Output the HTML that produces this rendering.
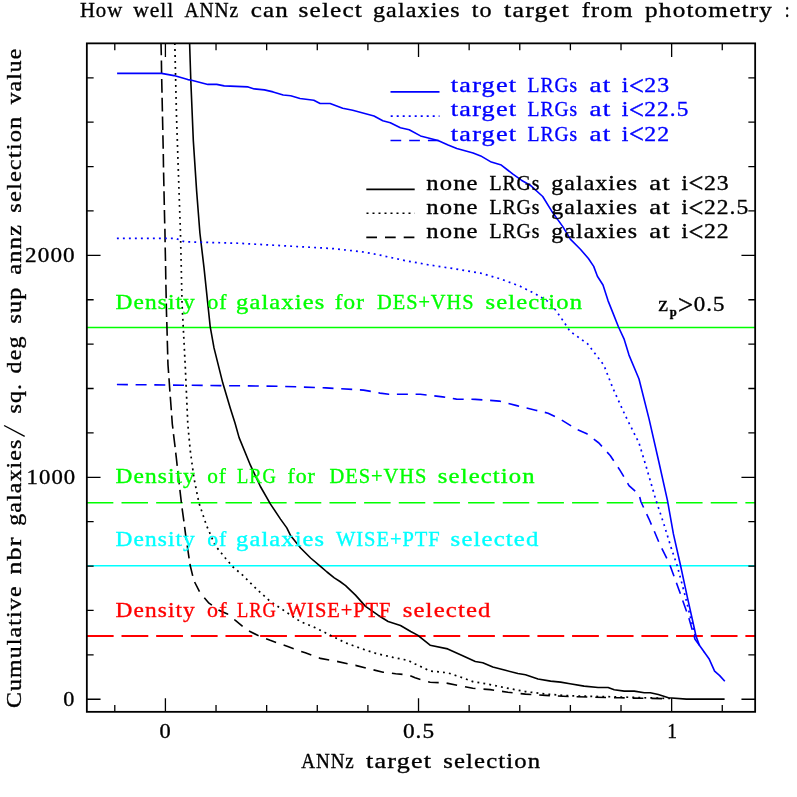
<!DOCTYPE html>
<html><head><meta charset="utf-8"><title>ANNz selection</title>
<style>
html,body{margin:0;padding:0;background:#fff;}
body{width:797px;height:797px;overflow:hidden;}
svg{display:block;will-change:transform;}
text{font-family:"Liberation Serif",serif;font-size:21.5px;stroke-width:0.35px;paint-order:stroke;}
</style></head><body>
<svg width="797" height="797" viewBox="0 0 797 797">
<rect width="797" height="797" fill="#fff"/>
<!-- horizontal reference lines -->
<line x1="86.84" x2="755.15" y1="327.6" y2="327.6" stroke="#0f0" stroke-width="1.5"/>
<line x1="86.84" x2="755.15" y1="502.8" y2="502.8" stroke="#0f0" stroke-width="1.5" stroke-dasharray="26.5 8.16"/>
<line x1="86.84" x2="755.15" y1="565.7" y2="565.7" stroke="#0ff" stroke-width="1.5"/>
<line x1="86.84" x2="755.15" y1="635.9" y2="635.9" stroke="#f00" stroke-width="2" stroke-dasharray="26.8 7.86"/>
<!-- curves -->
<g fill="none" stroke-linejoin="round">
<polyline points="189.6,43.0 190.8,80.2 193.3,140.4 196.6,190.6 199.9,233.0 204.0,267.6 210.2,326.6 214.0,347.9 222.8,383.1 230.3,408.2 235.0,423.0 239.1,437.6 250.4,465.2 260.4,486.5 270.5,504.1 280.5,519.1 286.8,527.9 290.5,535.4 300.6,548.0 310.6,558.0 320.5,566.3 327.0,572.0 334.3,577.8 340.0,581.5 345.6,585.6 355.5,595.1 365.5,606.4 378.1,615.2 388.1,621.5 400.5,625.5 410.7,631.5 417.6,635.1 430.1,645.2 447.7,648.9 462.7,655.7 475.3,661.5 482.8,662.7 492.8,667.0 505.4,670.3 517.9,673.5 525.5,674.8 538.0,679.0 550.6,681.1 560.6,682.1 570.0,683.7 584.1,686.1 598.1,687.5 608.1,687.5 614.2,689.7 624.2,691.1 634.2,691.1 644.3,692.7 650.3,692.7 658.3,694.5 668.4,697.7 686.4,699.1 724.6,699.1" stroke="#000" stroke-width="1.6"/>
<polyline points="174.8,43.0 176.5,115.3 179.0,190.6 180.5,234.0 182.1,305.3 185.2,365.0 187.8,424.0 190.2,450.1 193.9,477.7 198.9,502.8 206.5,525.4 215.2,545.5 225.3,558.0 233.0,567.0 242.6,575.1 257.6,590.1 270.2,601.4 285.2,611.4 300.3,621.5 315.4,627.8 330.4,635.3 345.5,642.8 360.5,648.3 375.6,653.3 393.1,657.4 408.2,660.4 415.1,664.0 430.1,671.0 447.7,672.8 462.7,677.8 472.8,681.6 487.8,684.1 505.4,687.8 525.5,691.6 545.5,694.1 570.0,695.8 620.0,697.0 670.0,698.5" stroke="#000" stroke-width="1.7" stroke-dasharray="1.9 4.1"/>
<path d="M161.0 43.0L161.3 55.3M161.4 60.4L161.6 74.0M161.7 79.1L162.0 92.7M162.1 97.8L162.4 111.4M162.5 116.5L162.8 130.1M162.9 135.2L163.2 148.8M163.3 153.9L163.5 167.5M163.6 172.6L163.9 186.2M164.0 191.3L164.3 204.9M164.4 210.0L164.7 223.5M164.9 228.7L165.0 235.0L165.1 242.2M165.2 247.4L165.5 260.9M165.6 266.1L165.8 279.6M165.9 284.7L166.2 298.3M166.3 303.4L166.3 305.3L166.6 317.0M166.8 322.1L167.2 335.7M167.3 340.8L167.7 354.4M167.8 359.5L168.0 365.0L168.6 373.0M169.0 378.2L169.9 391.6M170.3 396.8L171.3 410.3M171.7 415.5L172.3 424.0L172.9 428.6M173.5 434.1L175.1 447.2M175.7 452.7L176.3 457.6L177.2 465.8M177.8 471.2L179.3 484.4M179.9 489.8L181.4 502.8L181.4 502.9M182.1 508.4L183.9 521.4M184.6 526.9L186.3 539.9M187.2 545.5L189.1 558.3M190.0 563.9L190.2 565.5L192.7 575.9M194.6 582.0L199.5 591.7M204.3 597.8L209.0 603.2L211.9 605.2M218.5 609.8L219.5 610.5L227.5 614.0L228.1 614.5M234.3 619.5L235.1 620.2L242.6 626.3M249.0 631.0L257.6 635.3L258.6 635.7M266.1 638.7L270.2 640.3L276.1 642.4M283.6 645.1L287.8 646.6L293.7 648.7M301.2 651.4L305.3 652.8L311.3 655.0M318.8 657.8L320.4 658.4L329.2 660.0M337.1 661.4L338.0 661.6L347.6 663.7M355.4 665.4L355.5 665.4L365.8 668.0M373.5 669.9L383.1 672.2L384.0 672.3M391.9 673.2L395.7 673.7L402.5 674.4M410.3 675.8L415.1 677.8L420.4 679.4M428.1 681.7L430.1 682.3L438.7 682.6M446.6 683.1L457.1 685.2M465.0 686.7L472.8 688.3L475.5 688.5M483.5 689.1L490.3 689.6L494.1 690.2M502.0 691.4L507.9 692.3L512.6 692.8M520.6 693.6L525.5 694.1L531.3 694.5M539.2 695.0L545.5 695.4L549.9 695.6M557.9 696.0L568.6 696.5M576.6 696.8L587.3 697.0M595.3 697.2L606.0 697.5M614.0 697.7L620.0 697.8L624.7 697.9M632.7 698.1L643.4 698.3M651.4 698.4L662.1 698.6" stroke="#000" stroke-width="1.6"/>
<polyline points="117.1,73.4 161.5,73.4 174.0,75.6 187.8,79.6 191.6,80.2 207.9,84.4 216.7,84.4 224.2,85.9 248.1,86.9 254.3,88.9 264.4,89.9 273.1,91.9 283.2,95.0 290.7,95.7 300.0,98.5 313.8,100.2 320.1,103.5 330.1,103.5 342.7,108.3 352.7,110.3 374.0,116.0 382.8,120.8 390.3,122.8 400.4,127.8 409.2,129.8 420.5,135.9 438.0,140.4 448.1,144.9 456.8,148.4 473.1,152.9 480.7,155.9 491.3,162.1 501.3,165.1 512.6,173.9 521.4,180.2 530.2,185.2 542.7,196.5 552.8,212.8 562.8,226.6 570.3,239.1 580.4,249.2 588.4,258.5 593.7,266.4 597.4,276.2 603.0,285.0 608.0,300.6 613.0,313.1 618.5,327.0 624.0,338.8 629.0,355.1 639.0,379.0 649.1,419.1 659.1,463.0 667.5,500.7 673.4,533.9 680.6,565.7 687.5,597.9 694.3,628.2 696.0,636.1 699.4,645.2 709.0,658.7 714.6,671.1 719.7,675.6 724.8,681.3" stroke="#00f" stroke-width="1.6"/>
<polyline points="116.9,238.3 175.3,238.3 184.7,241.8 239.3,243.3 280.7,245.6 333.3,248.6 363.5,252.0 380.0,255.1 405.1,260.6 430.2,265.1 455.3,268.9 480.4,273.1 500.5,278.9 520.5,286.4 535.6,294.0 548.1,301.5 555.7,310.3 563.5,321.3 570.0,331.3 587.6,343.8 603.9,365.2 612.7,387.8 625.2,415.4 639.0,443.0 646.6,468.1 655.6,499.0 664.0,524.5 671.5,548.9 677.2,565.7 684.7,594.1 690.3,616.7 696.0,639.3" stroke="#00f" stroke-width="1.7" stroke-dasharray="1.9 4.1"/>
<path d="M116.9 384.5L127.9 384.6M135.6 384.7L146.6 384.8M154.3 384.9L165.3 385.0M173.0 385.1L184.0 385.2M191.7 385.3L202.7 385.4M210.4 385.5L220.4 385.6L221.4 385.6M229.1 385.7L240.1 385.8M247.8 385.9L258.8 386.0M266.5 386.1L277.5 386.3M285.2 386.5L296.2 386.8M303.9 387.1L314.9 387.5M322.6 387.8L325.8 387.9L333.5 388.4M341.2 388.8L352.2 389.4M359.9 389.9L363.5 390.1L370.8 391.4M378.4 392.8L380.0 393.1L388.8 394.3L389.2 394.3M396.9 394.3L407.9 394.3M415.6 394.3L420.2 394.3L426.6 395.0M434.3 395.9L442.7 396.9L445.2 397.3M452.8 398.5L456.5 399.1L463.7 399.2M471.4 399.3L475.4 399.4L482.4 399.9M490.1 400.4L499.2 401.1L501.0 401.6M508.5 403.5L516.8 405.6L519.1 406.2M526.6 408.0L535.6 410.2L537.3 410.6M544.8 412.4L548.1 413.2L554.9 416.5M561.8 420.1L571.1 425.9M577.7 429.8L586.3 433.4L587.6 434.4M593.8 439.1L598.9 443.0L601.9 446.4M607.1 452.1L610.2 455.5L613.7 460.8M618.0 467.2L620.2 470.6L623.8 476.7M627.6 483.2L629.0 485.6L635.2 491.1M639.7 497.0L641.0 502.0L643.6 507.5M646.7 514.2L648.9 518.8L651.4 524.6M654.3 531.3L658.7 541.8M661.8 548.4L666.8 558.4M670.0 565.2L674.0 576.2M676.4 582.8L679.1 590.3L680.4 593.8M682.7 600.4L686.6 611.4M688.9 618.1L692.2 629.7M694.1 636.0L695.0 639.3L699.4 645.2L699.5 645.4M703.8 651.8L704.0 652.0" stroke="#00f" stroke-width="1.6"/>
</g>
<!-- legend samples -->
<g fill="none">
<line x1="390.5" x2="439.5" y1="91.9" y2="91.9" stroke="#00f" stroke-width="1.7"/>
<line x1="390.7" x2="439.5" y1="116.1" y2="116.1" stroke="#00f" stroke-width="1.7" stroke-dasharray="2 4"/>
<line x1="390.5" x2="439.5" y1="140.5" y2="140.5" stroke="#00f" stroke-width="1.7" stroke-dasharray="10.7 8"/>
<line x1="366.3" x2="414.7" y1="189.4" y2="189.4" stroke="#000" stroke-width="1.6"/>
<line x1="366.5" x2="414.7" y1="213.3" y2="213.3" stroke="#000" stroke-width="1.6" stroke-dasharray="2 4"/>
<line x1="366.3" x2="414.7" y1="237.4" y2="237.4" stroke="#000" stroke-width="1.6" stroke-dasharray="10.7 8"/>
</g>
<!-- frame and ticks -->
<rect x="86.84" y="43.36" width="668.31" height="668.48" fill="none" stroke="#000" stroke-width="1.8"/>
<path d="M114.79 711.84v-6.8M114.79 43.36v6.8M165.41 711.84v-13.7M165.41 43.36v13.7M216.03 711.84v-6.8M216.03 43.36v6.8M266.66 711.84v-6.8M266.66 43.36v6.8M317.28 711.84v-6.8M317.28 43.36v6.8M367.90 711.84v-6.8M367.90 43.36v6.8M418.52 711.84v-13.7M418.52 43.36v13.7M469.15 711.84v-6.8M469.15 43.36v6.8M519.77 711.84v-6.8M519.77 43.36v6.8M570.39 711.84v-6.8M570.39 43.36v6.8M621.02 711.84v-6.8M621.02 43.36v6.8M671.64 711.84v-13.7M671.64 43.36v13.7M722.26 711.84v-6.8M722.26 43.36v6.8M86.84 699.25h13.7M755.15 699.25h-13.7M86.84 654.86h6.8M755.15 654.86h-6.8M86.84 610.47h6.8M755.15 610.47h-6.8M86.84 566.08h6.8M755.15 566.08h-6.8M86.84 521.69h6.8M755.15 521.69h-6.8M86.84 477.30h13.7M755.15 477.30h-13.7M86.84 432.91h6.8M755.15 432.91h-6.8M86.84 388.52h6.8M755.15 388.52h-6.8M86.84 344.13h6.8M755.15 344.13h-6.8M86.84 299.74h6.8M755.15 299.74h-6.8M86.84 255.35h13.7M755.15 255.35h-13.7M86.84 210.96h6.8M755.15 210.96h-6.8M86.84 166.57h6.8M755.15 166.57h-6.8M86.84 122.18h6.8M755.15 122.18h-6.8M86.84 77.79h6.8M755.15 77.79h-6.8" stroke="#000" stroke-width="1.3" fill="none"/>
<!-- text -->
<text transform="translate(79.90,16.5) scale(0.9655,1)" letter-spacing="1.0" fill="#000" stroke="#000">How</text><text transform="translate(133.20,16.5) scale(1.0042,1)" letter-spacing="1.0" fill="#000" stroke="#000">well</text><text transform="translate(184.40,16.5) scale(0.9082,1)" letter-spacing="1.0" fill="#000" stroke="#000">ANNz</text><text transform="translate(250.70,16.5) scale(1.1651,1)" letter-spacing="1.0" fill="#000" stroke="#000">can</text><text transform="translate(298.50,16.5) scale(1.1751,1)" letter-spacing="1.0" fill="#000" stroke="#000">select</text><text transform="translate(372.90,16.5) scale(1.1207,1)" letter-spacing="1.0" fill="#000" stroke="#000">galaxies</text><text transform="translate(471.70,16.5) scale(1.1221,1)" letter-spacing="1.0" fill="#000" stroke="#000">to</text><text transform="translate(504.10,16.5) scale(1.2061,1)" letter-spacing="1.0" fill="#000" stroke="#000">target</text><text transform="translate(581.80,16.5) scale(1.1318,1)" letter-spacing="1.0" fill="#000" stroke="#000">from</text><text transform="translate(645.10,16.5) scale(1.1727,1)" letter-spacing="1.0" fill="#000" stroke="#000">photometry</text><text transform="translate(784.70,16.5) scale(0.8021,1)" letter-spacing="1.0" fill="#000" stroke="#000">:</text>
<text transform="translate(450.80,92.3) scale(1.2191,1)" letter-spacing="1.0" fill="#00f" stroke="#00f">target</text><text transform="translate(527.60,92.3) scale(0.9122,1)" letter-spacing="1.0" fill="#00f" stroke="#00f">LRGs</text><text transform="translate(589.40,92.3) scale(1.2582,1)" letter-spacing="1.0" fill="#00f" stroke="#00f">at</text><text transform="translate(621.70,92.3) scale(1.1029,1)" letter-spacing="1.0" fill="#00f" stroke="#00f">i</text><text transform="translate(628.98,95.28) scale(1.2271,1.2469)" fill="#00f" stroke="#00f">&lt;</text><text transform="translate(644.30,92.3) scale(1.1067,1)" letter-spacing="1.0" fill="#00f" stroke="#00f">23</text>
<text transform="translate(450.80,116.2) scale(1.2191,1)" letter-spacing="1.0" fill="#00f" stroke="#00f">target</text><text transform="translate(527.60,116.2) scale(0.9122,1)" letter-spacing="1.0" fill="#00f" stroke="#00f">LRGs</text><text transform="translate(589.40,116.2) scale(1.2582,1)" letter-spacing="1.0" fill="#00f" stroke="#00f">at</text><text transform="translate(621.70,116.2) scale(1.1029,1)" letter-spacing="1.0" fill="#00f" stroke="#00f">i</text><text transform="translate(628.98,119.18) scale(1.2271,1.2469)" fill="#00f" stroke="#00f">&lt;</text><text transform="translate(644.30,116.2) scale(1.0855,1)" letter-spacing="1.0" fill="#00f" stroke="#00f">22.5</text>
<text transform="translate(450.80,140.5) scale(1.2191,1)" letter-spacing="1.0" fill="#00f" stroke="#00f">target</text><text transform="translate(527.60,140.5) scale(0.9122,1)" letter-spacing="1.0" fill="#00f" stroke="#00f">LRGs</text><text transform="translate(589.40,140.5) scale(1.2582,1)" letter-spacing="1.0" fill="#00f" stroke="#00f">at</text><text transform="translate(621.70,140.5) scale(1.1029,1)" letter-spacing="1.0" fill="#00f" stroke="#00f">i</text><text transform="translate(628.98,143.48) scale(1.2271,1.2469)" fill="#00f" stroke="#00f">&lt;</text><text transform="translate(644.30,140.5) scale(1.1067,1)" letter-spacing="1.0" fill="#00f" stroke="#00f">22</text>
<text transform="translate(426.20,189.5) scale(1.1474,1)" letter-spacing="1.0" fill="#000" stroke="#000">none</text><text transform="translate(489.40,189.5) scale(0.9232,1)" letter-spacing="1.0" fill="#000" stroke="#000">LRGs</text><text transform="translate(551.20,189.5) scale(1.1091,1)" letter-spacing="1.0" fill="#000" stroke="#000">galaxies</text><text transform="translate(649.30,189.5) scale(1.2401,1)" letter-spacing="1.0" fill="#000" stroke="#000">at</text><text transform="translate(681.40,189.5) scale(1.0695,1)" letter-spacing="1.0" fill="#000" stroke="#000">i</text><text transform="translate(688.48,192.48) scale(1.2271,1.2469)" fill="#000" stroke="#000">&lt;</text><text transform="translate(703.90,189.5) scale(1.1022,1)" letter-spacing="1.0" fill="#000" stroke="#000">23</text>
<text transform="translate(426.20,213.6) scale(1.1474,1)" letter-spacing="1.0" fill="#000" stroke="#000">none</text><text transform="translate(489.40,213.6) scale(0.9232,1)" letter-spacing="1.0" fill="#000" stroke="#000">LRGs</text><text transform="translate(551.20,213.6) scale(1.1091,1)" letter-spacing="1.0" fill="#000" stroke="#000">galaxies</text><text transform="translate(649.30,213.6) scale(1.2401,1)" letter-spacing="1.0" fill="#000" stroke="#000">at</text><text transform="translate(681.40,213.6) scale(1.0695,1)" letter-spacing="1.0" fill="#000" stroke="#000">i</text><text transform="translate(688.48,216.58) scale(1.2271,1.2469)" fill="#000" stroke="#000">&lt;</text><text transform="translate(703.90,213.6) scale(1.0954,1)" letter-spacing="1.0" fill="#000" stroke="#000">22.5</text>
<text transform="translate(426.20,237.8) scale(1.1474,1)" letter-spacing="1.0" fill="#000" stroke="#000">none</text><text transform="translate(489.40,237.8) scale(0.9232,1)" letter-spacing="1.0" fill="#000" stroke="#000">LRGs</text><text transform="translate(551.20,237.8) scale(1.1091,1)" letter-spacing="1.0" fill="#000" stroke="#000">galaxies</text><text transform="translate(649.30,237.8) scale(1.2401,1)" letter-spacing="1.0" fill="#000" stroke="#000">at</text><text transform="translate(681.40,237.8) scale(1.0695,1)" letter-spacing="1.0" fill="#000" stroke="#000">i</text><text transform="translate(688.48,240.78) scale(1.2271,1.2469)" fill="#000" stroke="#000">&lt;</text><text transform="translate(703.90,237.8) scale(1.1022,1)" letter-spacing="1.0" fill="#000" stroke="#000">22</text>
<text transform="translate(115.50,309.4) scale(1.0879,1)" letter-spacing="1.0" fill="#0f0" stroke="#0f0">Density</text><text transform="translate(207.40,309.4) scale(1.0041,1)" letter-spacing="1.0" fill="#0f0" stroke="#0f0">of</text><text transform="translate(236.00,309.4) scale(1.1400,1)" letter-spacing="1.0" fill="#0f0" stroke="#0f0">galaxies</text><text transform="translate(334.70,309.4) scale(1.0784,1)" letter-spacing="1.0" fill="#0f0" stroke="#0f0">for</text><text transform="translate(377.10,309.4) scale(0.9483,1)" letter-spacing="1.0" fill="#0f0" stroke="#0f0">DES+VHS</text><text transform="translate(485.50,309.4) scale(1.1431,1)" letter-spacing="1.0" fill="#0f0" stroke="#0f0">selection</text>
<text transform="translate(115.50,483.1) scale(1.0879,1)" letter-spacing="1.0" fill="#0f0" stroke="#0f0">Density</text><text transform="translate(207.20,483.1) scale(0.9936,1)" letter-spacing="1.0" fill="#0f0" stroke="#0f0">of</text><text transform="translate(237.10,483.1) scale(0.8600,1)" letter-spacing="1.0" fill="#0f0" stroke="#0f0">LRG</text><text transform="translate(287.40,483.1) scale(1.0156,1)" letter-spacing="1.0" fill="#0f0" stroke="#0f0">for</text><text transform="translate(329.60,483.1) scale(0.9502,1)" letter-spacing="1.0" fill="#0f0" stroke="#0f0">DES+VHS</text><text transform="translate(437.80,483.1) scale(1.1478,1)" letter-spacing="1.0" fill="#0f0" stroke="#0f0">selection</text>
<text transform="translate(115.50,546) scale(1.0879,1)" letter-spacing="1.0" fill="#0ff" stroke="#0ff">Density</text><text transform="translate(207.20,546) scale(1.0094,1)" letter-spacing="1.0" fill="#0ff" stroke="#0ff">of</text><text transform="translate(236.10,546) scale(1.1362,1)" letter-spacing="1.0" fill="#0ff" stroke="#0ff">galaxies</text><text transform="translate(335.90,546) scale(0.9566,1)" letter-spacing="1.0" fill="#0ff" stroke="#0ff">WISE+PTF</text><text transform="translate(450.60,546) scale(1.1515,1)" letter-spacing="1.0" fill="#0ff" stroke="#0ff">selected</text>
<text transform="translate(115.50,616.8) scale(1.0879,1)" letter-spacing="1.0" fill="#f00" stroke="#f00">Density</text><text transform="translate(207.10,616.8) scale(1.0253,1)" letter-spacing="1.0" fill="#f00" stroke="#f00">of</text><text transform="translate(237.10,616.8) scale(0.8600,1)" letter-spacing="1.0" fill="#f00" stroke="#f00">LRG</text><text transform="translate(286.80,616.8) scale(0.9548,1)" letter-spacing="1.0" fill="#f00" stroke="#f00">WISE+PTF</text><text transform="translate(402.70,616.8) scale(1.1515,1)" letter-spacing="1.0" fill="#f00" stroke="#f00">selected</text>
<text transform="translate(301.30,768.3) scale(0.8896,1)" letter-spacing="1.0" fill="#000" stroke="#000">ANNz</text><text transform="translate(366.10,768.3) scale(1.2117,1)" letter-spacing="1.0" fill="#000" stroke="#000">target</text><text transform="translate(443.20,768.3) scale(1.1490,1)" letter-spacing="1.0" fill="#000" stroke="#000">selection</text>
<g transform="translate(20.7,707.6) rotate(-90)"><text transform="translate(-0.50,0) scale(1.1132,1)" letter-spacing="1.0" fill="#000" stroke="#000">Cumulative</text><text transform="translate(133.00,0) scale(1.2096,1)" letter-spacing="1.0" fill="#000" stroke="#000">nbr</text><text transform="translate(181.80,0) scale(1.1129,1)" letter-spacing="1.0" fill="#000" stroke="#000">galaxies</text><text transform="translate(294.20,0) scale(1.1132,1)" letter-spacing="1.0" fill="#000" stroke="#000">sq.</text><text transform="translate(334.20,0) scale(1.1166,1)" letter-spacing="1.0" fill="#000" stroke="#000">deg</text><text transform="translate(384.10,0) scale(1.1231,1)" letter-spacing="1.0" fill="#000" stroke="#000">sup</text><text transform="translate(432.80,0) scale(1.1424,1)" letter-spacing="1.0" fill="#000" stroke="#000">annz</text><text transform="translate(494.90,0) scale(1.1383,1)" letter-spacing="1.0" fill="#000" stroke="#000">selection</text><text transform="translate(603.30,0) scale(1.0977,1)" letter-spacing="1.0" fill="#000" stroke="#000">value</text><line x1="271.2" y1="4.0" x2="282.1" y2="-16.6" stroke="#000" stroke-width="1.4"/></g>
<text transform="translate(159.40,737.5) scale(1.0419,1)" letter-spacing="1.0" fill="#000" stroke="#000">0</text>
<text transform="translate(402.90,737.5) scale(1.0805,1)" letter-spacing="1.0" fill="#000" stroke="#000">0.5</text>
<text transform="translate(667.20,737.5) scale(0.9023,1)" letter-spacing="1.0" fill="#000" stroke="#000">1</text>
<text transform="translate(25.10,262.0) scale(1.0783,1)" letter-spacing="1.0" fill="#000" stroke="#000">2000</text>
<text transform="translate(26.60,484.2) scale(1.0565,1)" letter-spacing="1.0" fill="#000" stroke="#000">1000</text>
<text transform="translate(63.30,706.0) scale(1.0326,1)" letter-spacing="1.0" fill="#000" stroke="#000">0</text>
<text transform="translate(658.30,310.9) scale(1.0265,1)" letter-spacing="1.0" fill="#000" stroke="#000">z</text>
<text transform="translate(669.80,316.1) scale(0.9676,1)" letter-spacing="1.0" fill="#000" stroke="#000" style="font-size:13px" font-weight="bold">p</text>
<text transform="translate(678.06,313.88) scale(1.2469,1.2469)" fill="#000" stroke="#000">&gt;</text>
<text transform="translate(693.70,310.9) scale(1.0667,1)" letter-spacing="1.0" fill="#000" stroke="#000">0.5</text>
</svg>
</body></html>
